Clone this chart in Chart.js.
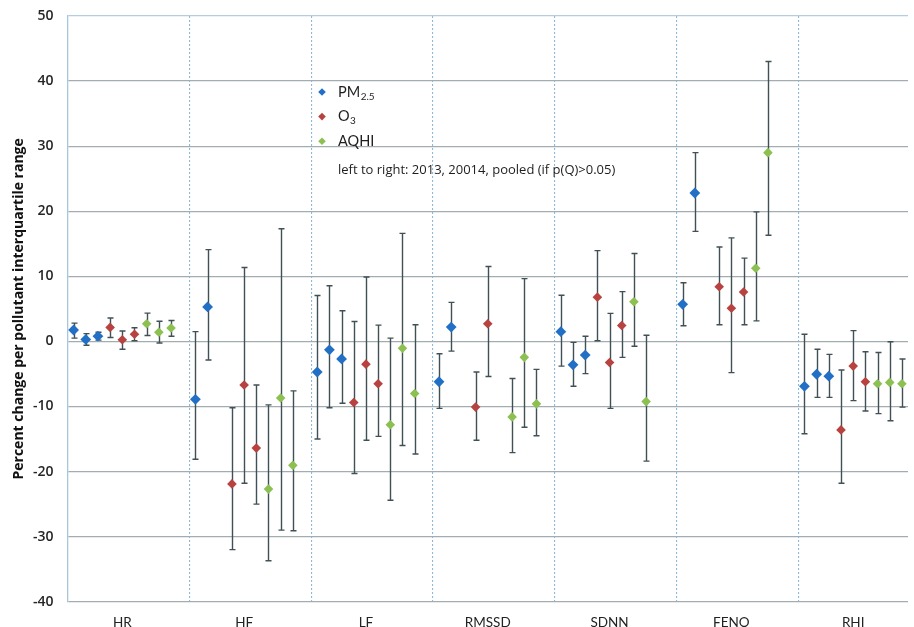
<!DOCTYPE html>
<html>
<head>
<meta charset="utf-8">
<script src="https://cdn.jsdelivr.net/npm/chart.js@4.4.1/dist/chart.umd.min.js"></script>
<style>
  html, body { margin: 0; padding: 0; background: #ffffff; overflow: hidden; }
  #wrap { width: 914px; height: 627px; position: relative; }
</style>
</head>
<body>
<div id="wrap"><canvas id="c"></canvas></div>
<script>
// Outcome categories along the x axis
const categories = ['HR', 'HF', 'LF', 'RMSSD', 'SDNN', 'FENO', 'RHI'];
// Within each category, left to right: 2013, 2014, pooled (pooled shown only if p(Q) > 0.05)
const periods = ['2013', '2014', 'pooled'];
const yTicks = [-40, -30, -20, -10, 0, 10, 20, 30, 40, 50];

// PM2.5: estimate, lower and upper bound per category [2013, 2014, pooled]
const pm25Est = [[1.75, 0.3, 0.8], [-8.9, 5.3, null], [-4.7, -1.3, -2.7], [-6.2, 2.2, null], [1.5, -3.6, -2.1], [5.7, 22.8, null], [-6.9, -5.05, -5.35]];
const pm25Lo  = [[0.5, -0.6, 0.2], [-18.1, -2.85, null], [-15.0, -10.2, -9.5], [-10.3, -1.5, null], [-3.8, -6.9, -4.95], [2.4, 16.9, null], [-14.2, -8.6, -8.6]];
const pm25Hi  = [[2.8, 1.2, 1.4], [1.5, 14.1, null], [7.05, 8.55, 4.7], [-1.9, 6.0, null], [7.1, -0.15, 0.8], [9.0, 29.0, null], [1.1, -1.2, -2.0]];

// O3
const o3Est = [[2.15, 0.25, 1.1], [-21.9, -6.7, -16.4], [-9.4, -3.5, -6.5], [-10.1, 2.7, null], [6.8, -3.25, 2.45], [8.4, 5.1, 7.6], [-13.6, -3.8, -6.2]];
const o3Lo  = [[0.6, -1.2, 0.1], [-32.0, -21.8, -25.0], [-20.3, -15.2, -14.6], [-15.2, -5.4, null], [0.1, -10.3, -2.45], [2.55, -4.8, 2.55], [-21.8, -9.1, -10.7]];
const o3Hi  = [[3.6, 1.6, 2.1], [-10.2, 11.35, -6.7], [3.05, 9.9, 2.5], [-4.7, 11.5, null], [13.95, 4.3, 7.65], [14.5, 15.9, 12.8], [-4.4, 1.65, -1.6]];

// AQHI
const aqhiEst = [[2.7, 1.4, 2.05], [-22.7, -8.7, -19.05], [-12.8, -1.05, -8.0], [-11.6, -2.45, -9.6], [6.1, -9.25, null], [11.25, 29.0, null], [-6.5, -6.3, -6.5]];
const aqhiLo  = [[0.9, -0.25, 0.8], [-33.7, -29.0, -29.1], [-24.4, -16.0, -17.3], [-17.1, -13.2, -14.5], [-0.75, -18.4, null], [3.15, 16.3, null], [-11.1, -12.2, -10.1]];
const aqhiHi  = [[4.35, 3.1, 3.2], [-9.75, 17.3, -7.6], [0.5, 16.6, 2.55], [-5.7, 9.65, -4.3], [13.5, 0.95, null], [19.9, 43.0, null], [-1.7, -0.05, -2.7]];

const pollutants = [
  { name: 'PM2.5', main: 'PM', sub: '2.5', color: '#2170c6', radius: 5.4, est: pm25Est, lo: pm25Lo, hi: pm25Hi },
  { name: 'O3',    main: 'O',  sub: '3',   color: '#b8423f', radius: 4.8, est: o3Est,   lo: o3Lo,   hi: o3Hi },
  { name: 'AQHI',  main: 'AQHI', sub: '',  color: '#8cc152', radius: 4.8, est: aqhiEst, lo: aqhiLo, hi: aqhiHi }
];

const SANS = "'Open Sans', Lato, sans-serif";
const NARROW = "Lato, 'Open Sans', sans-serif";

// Each category holds nine slots: 3 pollutants x 3 periods
function buildPoints(p, pi) {
  const pts = [];
  categories.forEach((cat, ci) => {
    periods.forEach((per, k) => {
      const v = p.est[ci][k];
      if (v === null) return;
      pts.push({ x: ci + 0.05 + 0.1 * (pi * 3 + k), y: v, lo: p.lo[ci][k], hi: p.hi[ci][k] });
    });
  });
  return pts;
}

const datasets = pollutants.map((p, pi) => ({
  label: p.name,
  data: buildPoints(p, pi),
  showLine: false,
  pointStyle: 'rectRot',
  pointRadius: p.radius,
  pointHoverRadius: p.radius,
  backgroundColor: p.color,
  borderColor: p.color,
  borderWidth: 0
}));

// Vertical confidence-interval whiskers with small caps
const errorBars = {
  id: 'errorBars',
  beforeDatasetsDraw(chart) {
    const { ctx, scales: { x, y } } = chart;
    ctx.save();
    ctx.strokeStyle = '#405055';
    ctx.lineWidth = 1.4;
    chart.data.datasets.forEach(ds => {
      ds.data.forEach(pt => {
        const px = Math.round(x.getPixelForValue(pt.x)) + 0.5;
        const top = y.getPixelForValue(pt.hi);
        const bot = y.getPixelForValue(pt.lo);
        ctx.beginPath();
        ctx.moveTo(px, top); ctx.lineTo(px, bot);
        ctx.moveTo(px - 3, top); ctx.lineTo(px + 3, top);
        ctx.moveTo(px - 3, bot); ctx.lineTo(px + 3, bot);
        ctx.stroke();
      });
    });
    ctx.restore();
  }
};

// Legend with subscripts plus the ordering note
const legendNote = {
  id: 'legendNote',
  afterDraw(chart) {
    const ctx = chart.ctx;
    ctx.save();
    const mx = 322, tx = 338, y0 = 92, dy = 24.6;
    pollutants.forEach((p, i) => {
      const yy = y0 + i * dy;
      ctx.fillStyle = p.color;
      ctx.beginPath();
      ctx.moveTo(mx, yy - 3.8); ctx.lineTo(mx + 3.8, yy); ctx.lineTo(mx, yy + 3.8); ctx.lineTo(mx - 3.8, yy);
      ctx.closePath(); ctx.fill();
      ctx.fillStyle = '#1e1e1e';
      ctx.textBaseline = 'middle';
      ctx.textAlign = 'left';
      ctx.font = '14.5px ' + NARROW;
      ctx.fillText(p.main, tx, yy);
      if (p.sub) {
        const w = ctx.measureText(p.main).width;
        ctx.font = '10px ' + NARROW;
        ctx.fillText(p.sub, tx + w + 0.5, yy + 4.5);
      }
    });
    ctx.font = '13px ' + SANS;
    ctx.fillStyle = '#1e1e1e';
    ctx.textBaseline = 'middle';
    ctx.fillText('left to right: 2013, 20014, pooled (if p(Q)>0.05)', tx, 170);
    ctx.restore();
  }
};

new Chart(document.getElementById('c'), {
  type: 'scatter',
  data: { datasets },
  plugins: [errorBars, legendNote],
  options: {
    responsive: true,
    maintainAspectRatio: false,
    animation: false,
    layout: { padding: { left: 0, right: 6, top: 16, bottom: 0 } },
    plugins: { legend: { display: false }, tooltip: { enabled: false } },
    scales: {
      x: {
        type: 'linear',
        min: 0,
        max: 6.9,
        afterBuildTicks(scale) {
          const t = [];
          categories.forEach((c, i) => { t.push({ value: i }); t.push({ value: i + 0.45 }); });
          scale.ticks = t;
        },
        afterFit(scale) { scale.height = 25.3; },
        grid: {
          drawTicks: false,
          lineWidth: 1.1,
          color: ctx => (ctx.tick && Number.isInteger(ctx.tick.value) && ctx.tick.value > 0) ? '#8db8da' : 'rgba(0,0,0,0)'
        },
        border: { display: false, dash: [2, 2] },
        ticks: {
          autoSkip: false,
          maxRotation: 0,
          padding: 13,
          color: '#222',
          font: { family: NARROW, size: 13.5 },
          callback: v => Number.isInteger(v) ? '' : categories[Math.floor(v)]
        }
      },
      y: {
        min: -40,
        max: 50,
        afterBuildTicks(scale) { scale.ticks = yTicks.map(v => ({ value: v })); },
        afterFit(scale) { scale.width = 67.5; scale.paddingTop = 0; scale.paddingBottom = 0; },
        grid: {
          drawTicks: false,
          lineWidth: 1.3,
          color: ctx => (ctx.tick && ctx.tick.value === 50) ? '#b4cde0' : '#a2adb2'
        },
        border: { display: true, color: '#a9c6dc', width: 1.3 },
        ticks: {
          padding: 14,
          color: '#262626',
          font: { family: SANS, size: 14, weight: '600' }
        },
        title: {
          display: true,
          text: 'Percent change per pollutant interquartile range',
          color: '#111',
          font: { family: SANS, size: 14, weight: 'bold' },
          padding: { top: 11, bottom: 0 }
        }
      }
    }
  }
});
</script>
</body>
</html>
